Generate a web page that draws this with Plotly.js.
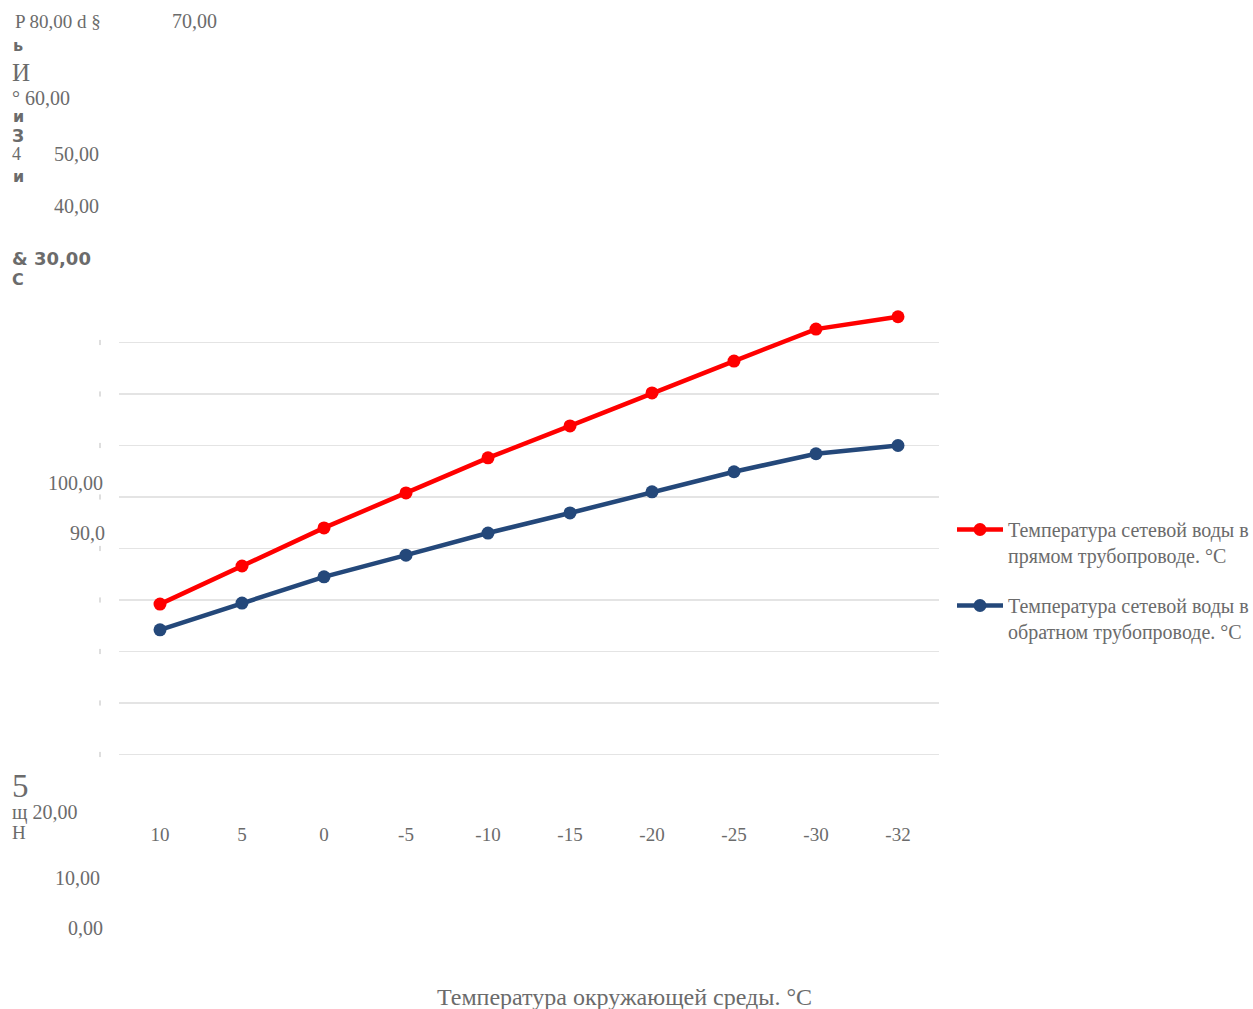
<!DOCTYPE html>
<html>
<head>
<meta charset="utf-8">
<script src="https://cdn.plot.ly/plotly-3.0.1.min.js"></script>
<style>html,body{margin:0;padding:0;background:#fff;}</style>
</head>
<body>
<div id="chart" style="width:1253px;height:1009px;"></div>
<script>
// ---- data ----
var categories = ['10', '5', '0', '-5', '-10', '-15', '-20', '-25', '-30', '-32'];
var supplyTemp = [29.2, 36.6, 44.0, 50.8, 57.6, 63.8, 70.2, 76.4, 82.6, 85.0];
var returnTemp = [24.2, 29.4, 34.5, 38.7, 43.0, 46.9, 51.0, 54.9, 58.4, 60.0];
var yTicks = [0, 10, 20, 30, 40, 50, 60, 70, 80];
var supplyName = 'Температура сетевой воды в<br>прямом трубопроводе. °С';
var returnName = 'Температура сетевой воды в<br>обратном трубопроводе. °С';
var xTitle = 'Температура окружающей среды. °С';
// scattered (garbled) axis-label fragments as they appear in the picture
var fragText = ['P 80,00 d §', '70,00', 'ь', 'И', '° 60,00', 'и', 'З', '4', '50,00', 'и', '40,00', '& 30,00', 'С', '100,00', '90,0', '5', 'щ 20,00', 'Н', '10,00', '0,00'];

// ---- layout geometry (pixels) ----
var W = 1253, H = 1009;
var L = 119, R = 939, T = 300, B = 810;
function px(x) { return (x - L) / (R - L); }
function py(y) { return (B - y) / (B - T); }
var serif = 'Liberation Serif, Times New Roman, serif';
var sans = 'DejaVu Sans, Open Sans, sans-serif';
var grey = '#6b6b6b';

var fragPos = [
  [14, 21, serif, 19, false],
  [171, 21, serif, 20, false],
  [12, 45, sans, 16, true],
  [11, 72, serif, 25, false],
  [11, 98, serif, 20, false],
  [12, 117, sans, 16, true],
  [11, 136, sans, 17, true],
  [11, 154, serif, 18, false],
  [53, 154, serif, 20, false],
  [12, 176, sans, 16, true],
  [53, 206, serif, 20, false],
  [11, 258, sans, 18, true],
  [11, 280, sans, 16, true],
  [47, 483, serif, 20, false],
  [69, 533, serif, 20, false],
  [11, 786, serif, 33, false],
  [11, 812, serif, 20, false],
  [11, 832, serif, 19, false],
  [54, 878, serif, 20, false],
  [67, 928, serif, 20, false]
];

var annotations = fragText.map(function (t, i) {
  var p = fragPos[i];
  return {
    xref: 'paper', yref: 'paper', x: px(p[0]), y: py(p[1]),
    xanchor: 'left', yanchor: 'middle', showarrow: false, borderpad: 0,
    text: p[4] ? '<b>' + t + '</b>' : t,
    font: {family: p[2], size: p[3], color: grey}
  };
});
annotations.push({
  xref: 'paper', yref: 'paper', x: px(624), y: py(997),
  xanchor: 'center', yanchor: 'middle', showarrow: false,
  text: xTitle, font: {family: serif, size: 24, color: grey}
});

var shapes = yTicks.map(function (v) {
  return {type: 'line', xref: 'paper', yref: 'y', x0: px(100), x1: px(100), y0: v - 0.5, y1: v + 0.5,
          line: {color: '#bdbdbd', width: 1}};
});

var traces = [
  {
    x: categories, y: supplyTemp, name: supplyName, type: 'scatter', mode: 'lines+markers',
    line: {color: '#ff0000', width: 4.5}, marker: {color: '#ff0000', size: 13},
    legend: 'legend'
  },
  {
    x: categories, y: returnTemp, name: returnName, type: 'scatter', mode: 'lines+markers',
    line: {color: '#24487a', width: 4.5}, marker: {color: '#24487a', size: 13},
    legend: 'legend2'
  }
];

var legendStyle = function (y) {
  return {
    x: px(952), y: py(y), xanchor: 'left', yanchor: 'top', valign: 'top',
    bgcolor: 'rgba(0,0,0,0)', itemwidth: 46,
    font: {family: serif, size: 20, color: grey}
  };
};

var layout = {
  width: W, height: H,
  margin: {l: L, r: W - R, t: T, b: H - B, pad: 0, autoexpand: false},
  paper_bgcolor: '#fff', plot_bgcolor: '#fff',
  showlegend: true,
  legend: legendStyle(510),
  legend2: legendStyle(586),
  xaxis: {
    type: 'category', range: [-0.5, 9.5], showgrid: false, zeroline: false, showline: false,
    ticks: '', ticklabelstandoff: 11,
    tickfont: {family: serif, size: 19, color: grey}
  },
  yaxis: {
    range: [-(B - 754.5) / 5.15, 80 + (342.5 - T) / 5.15],
    tickvals: yTicks, showticklabels: false, showgrid: true, gridcolor: '#e4e4e4', gridwidth: 1.5,
    zeroline: false, showline: false, ticks: ''
  },
  annotations: annotations,
  shapes: shapes
};

Plotly.newPlot('chart', traces, layout, {displayModeBar: false, staticPlot: true});
</script>
</body>
</html>
